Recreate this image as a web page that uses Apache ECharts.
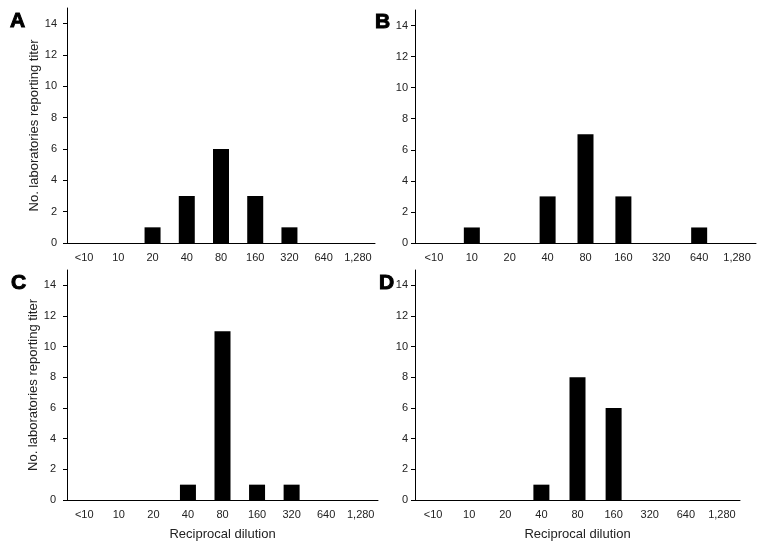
<!DOCTYPE html>
<html>
<head>
<meta charset="utf-8">
<script src="https://cdn.jsdelivr.net/npm/echarts@6/dist/echarts.min.js"></script>
<style>html,body{margin:0;padding:0;background:#fff}#c{width:768px;height:548px}</style>
</head>
<body>
<div id="c"></div>
<script>
const categories = ['<10', '10', '20', '40', '80', '160', '320', '640', '1,280'];
const panelA = [0, 0, 1, 3, 6, 3, 1, 0, 0];
const panelB = [0, 1, 0, 3, 7, 3, 0, 1, 0];
const panelC = [0, 0, 0, 1, 11, 1, 1, 0, 0];
const panelD = [0, 0, 0, 1, 8, 6, 0, 0, 0];
const yTicks = [0, 2, 4, 6, 8, 10, 12, 14];
const panelLetters = ['A', 'B', 'C', 'D'];
const yTitle = 'No. laboratories reporting titer';
const xTitle = 'Reciprocal dilution';

const FONT = 'Liberation Sans, Arial, sans-serif';
const grids = [
  {left: 67, top: 8, right: 393, bottom: 305},
  {left: 415, top: 10, right: 12, bottom: 305},
  {left: 67, top: 270, right: 390, bottom: 48},
  {left: 415, top: 270, right: 28, bottom: 48}
];
const data = [panelA, panelB, panelC, panelD];
const letterPos = [[5, 6], [370, 7], [6, 268], [374, 268]];
const labelMargins = [10, 7, 11, 7];

const option = {
  animation: false,
  backgroundColor: '#fff',
  title: panelLetters.map((l, i) => ({
    text: l, left: letterPos[i][0], top: letterPos[i][1],
    textStyle: {fontFamily: FONT, fontWeight: 'bold', fontSize: 21, color: '#000',
      textBorderColor: '#000', textBorderWidth: 1}
  })),
  grid: grids,
  xAxis: grids.map((g, i) => ({
    type: 'category', gridIndex: i, data: categories,
    boundaryGap: true,
    axisLine: {lineStyle: {color: '#000', width: 1}},
    axisTick: {show: false},
    axisLabel: {fontFamily: FONT, fontSize: 11, color: '#222', margin: 9, interval: 0},
    name: i >= 2 ? xTitle : '',
    nameLocation: 'middle', nameGap: 28,
    nameTextStyle: {fontFamily: FONT, fontSize: 13, color: '#222'}
  })),
  yAxis: grids.map((g, i) => ({
    type: 'value', gridIndex: i, min: 0, max: 15, interval: 2,
    splitLine: {show: false},
    axisLine: {show: true, lineStyle: {color: '#000', width: 1}},
    axisTick: {show: true, length: 4, customValues: yTicks, lineStyle: {color: '#000'}},
    axisLabel: {fontFamily: FONT, fontSize: 11, color: '#222', margin: labelMargins[i], customValues: yTicks},
    name: (i === 0 || i === 2) ? yTitle : '',
    nameLocation: 'middle', nameGap: 24,
    nameTextStyle: {fontFamily: FONT, fontSize: 13, color: '#222'}
  })),
  series: data.map((d, i) => ({
    type: 'bar', xAxisIndex: i, yAxisIndex: i, data: d,
    barWidth: 16,
    itemStyle: {color: '#000'}
  }))
};
echarts.init(document.getElementById('c'), null, {renderer: 'canvas'}).setOption(option);
</script>
</body>
</html>
